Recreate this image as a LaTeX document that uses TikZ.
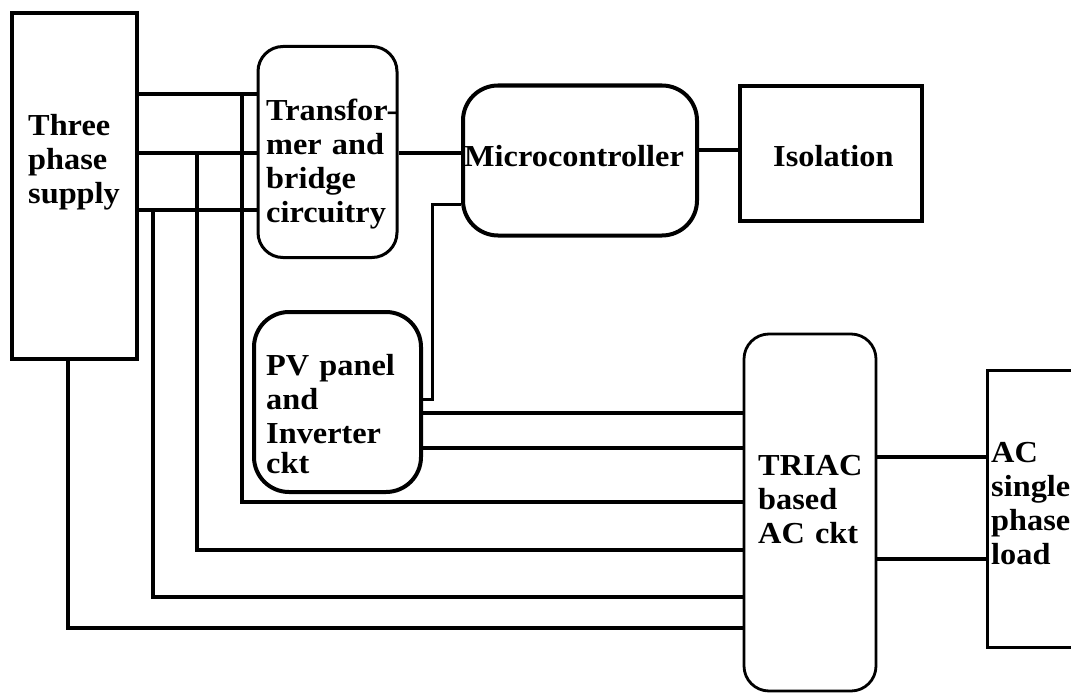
\documentclass[tikz,border=0pt]{standalone}
\usepackage{fontspec}
\setmainfont{Liberation Serif}[FakeStretch=1.06]
\begin{document}
\begin{tikzpicture}[x=1pt,y=-1pt,
  blk/.style={draw, line width=3.5pt, inner sep=0pt},
  wire/.style={line width=3.3pt},
  txt/.style={inner sep=0pt, anchor=base west, align=left, text width=#1,
    font=\fontsize{30.5}{34}\selectfont\bfseries}]
\clip (0,0) rectangle (1071,693);
\fill[white] (0,0) rectangle (1071,693);
% blocks
\node[blk, minimum width=125pt, minimum height=346pt] (sup) at (74.5,186) {};
\node[blk, line width=3pt, rounded corners=25pt, minimum width=139pt, minimum height=211pt] (trans) at (327.5,152) {};
\node[blk, line width=4pt, rounded corners=35pt, minimum width=234pt, minimum height=150pt] (micro) at (580,160.5) {};
\node[blk, line width=4pt, minimum width=182pt, minimum height=135pt] (iso) at (831,153.5) {};
\node[blk, line width=4pt, rounded corners=35pt, minimum width=167pt, minimum height=180pt] (pv) at (337.5,402) {};
\node[blk, line width=2.8pt, rounded corners=25pt, minimum width=132pt, minimum height=357pt] (triac) at (810,512.5) {};
\node[blk, line width=3pt, minimum width=113pt, minimum height=277pt] (load) at (1043.5,508.5) {};
% texts
\node[txt=160pt] (tsup) at (28,135) {Three\\phase\\supply};
\node[txt=160pt] (ttrans) at (266,120) {Transfor-\\mer and\\bridge\\circuitry};
\node[txt=260pt] (tmicro) at (464,166) {Microcontroller};
\node[txt=160pt] (tiso) at (773,166) {Isolation};
\node[txt=160pt] (tpv) at (266,375) {PV panel\\and\\Inverter\\[-4pt]ckt};
\node[txt=160pt] (ttriac) at (758,475) {TRIAC\\based\\AC ckt};
\node[txt=160pt] (tload) at (991,462) {AC\\single\\phase\\load};
% levels
\coordinate (h1) at (0,94);
\coordinate (h2) at (0,153);
\coordinate (h3) at (0,210);
\coordinate (j1) at (242,94);
\coordinate (j2) at (197,153);
\coordinate (j3) at (153,210);
\coordinate (j4) at (68,0);
\coordinate (b1) at (0,502);
\coordinate (b2) at (0,550);
\coordinate (b3) at (0,597);
\coordinate (b4) at (0,628);
\coordinate (mi) at (0,150);
\coordinate (m1) at (0,204);
\coordinate (p1) at (432,399);
\coordinate (q1) at (0,413);
\coordinate (q2) at (0,448);
\coordinate (l1) at (0,457);
\coordinate (l2) at (0,559);
% connectors
\draw[wire] (sup.east |- h1) -- (trans.west |- h1);
\draw[wire] (sup.east |- h2) -- (trans.west |- h2);
\draw[wire] (sup.east |- h3) -- (trans.west |- h3);
\draw[wire] (j1) |- (triac.west |- b1);
\draw[wire] (j2) |- (triac.west |- b2);
\draw[wire] (j3) |- (triac.west |- b3);
\draw[wire] (sup.south -| j4) |- (triac.west |- b4);
\draw[wire] (trans.east |- h2) -- (micro.west |- h2);
\draw[wire] (micro.east |- mi) -- (iso.west |- mi);
\draw[wire, line width=3pt] (pv.east |- p1) -- (p1) |- (micro.west |- m1);
\draw[wire] (pv.east |- q1) -- (triac.west |- q1);
\draw[wire] (pv.east |- q2) -- (triac.west |- q2);
\draw[wire] (triac.east |- l1) -- (load.west |- l1);
\draw[wire] (triac.east |- l2) -- (load.west |- l2);
\end{tikzpicture}
\end{document}
